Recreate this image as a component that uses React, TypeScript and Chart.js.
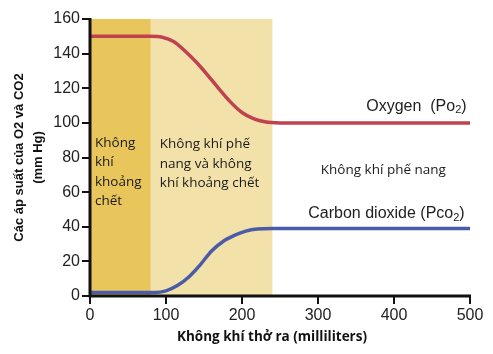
import React, { useEffect, useRef } from "react";
import { Chart, registerables } from "chart.js";

Chart.register(...registerables);

// Data
const oxygenX = [0, 80, 95, 110, 125, 140, 155, 170, 185, 200, 215, 230, 250, 500];
const oxygenY = [150, 150, 149.5, 147, 141.5, 135, 127.5, 119.5, 112, 106, 102.5, 100.6, 100, 100];
const co2X = [0, 85, 100, 115, 130, 145, 160, 175, 190, 205, 220, 240, 500];
const co2Y = [2, 2, 3, 6, 11, 18, 26, 31.5, 35, 37.5, 38.7, 39, 39];
const xTicks = [0, 100, 200, 300, 400, 500];
const yTicks = [0, 20, 40, 60, 80, 100, 120, 140, 160];
const deadSpace = [0, 80];
const mixedZone = [80, 240];

const oxygenLabel = "Oxygen  (Po";
const co2Label = "Carbon dioxide (Pco";
const deadLabel = ["Không", "khí", "khoảng", "chết"];
const mixedLabel = ["Không khí phế", "nang và không", "khí khoảng chết"];
const alveolarLabel = "Không khí phế nang";
const xTitle = "Không khí thở ra (milliliters)";
const yTitle = ["Các áp suất của O2 và CO2", "(mm Hg)"];

const FONT = "'Open Sans', 'Noto Sans', sans-serif";
const ARIAL = "'Liberation Sans', Arial, sans-serif";

const overlay = {
  id: "overlay",
  beforeDraw(chart: any) {
    const { ctx, chartArea, scales } = chart;
    const x = scales.x;
    ctx.save();
    ctx.fillStyle = "#E8C65C";
    ctx.fillRect(x.getPixelForValue(deadSpace[0]), chartArea.top, x.getPixelForValue(deadSpace[1]) - x.getPixelForValue(deadSpace[0]), chartArea.bottom - chartArea.top);
    ctx.fillStyle = "#F2E2AA";
    ctx.fillRect(x.getPixelForValue(mixedZone[0]), chartArea.top, x.getPixelForValue(mixedZone[1]) - x.getPixelForValue(mixedZone[0]), chartArea.bottom - chartArea.top);
    ctx.restore();
  },
  afterDatasetsDraw(chart: any) {
    const { ctx, chartArea, scales } = chart;
    const x = scales.x;
    const y = scales.y;
    ctx.save();
    ctx.fillStyle = "#1a1a1a";
    ctx.textBaseline = "middle";
    ctx.font = `13.5px ${FONT}`;
    ctx.textAlign = "left";
    const dx = x.getPixelForValue(deadSpace[0]) + 5;
    deadLabel.forEach((t, i) => ctx.fillText(t, dx, y.getPixelForValue(88.5) + i * 19.5));
    const mx = x.getPixelForValue(mixedZone[0]) + 9;
    mixedLabel.forEach((t, i) => ctx.fillText(t, mx, y.getPixelForValue(87.5) + i * 19.5));
    ctx.textAlign = "center";
    ctx.fillText(alveolarLabel, x.getPixelForValue(386), y.getPixelForValue(72.5));

    const drawSub = (label: string, rightX: number, cy: number) => {
      const main = `16px ${ARIAL}`;
      const sub = `11px ${ARIAL}`;
      ctx.textAlign = "left";
      ctx.font = main;
      const w1 = ctx.measureText(label).width;
      const w3 = ctx.measureText(")").width;
      ctx.font = sub;
      const w2 = ctx.measureText("2").width;
      const start = rightX - w1 - w2 - w3;
      ctx.font = main;
      ctx.fillText(label, start, cy);
      ctx.font = sub;
      ctx.fillText("2", start + w1, cy + 4);
      ctx.font = main;
      ctx.fillText(")", start + w1 + w2, cy);
    };
    ctx.fillStyle = "#222";
    drawSub(oxygenLabel, x.getPixelForValue(495.5), y.getPixelForValue(109.5));
    drawSub(co2Label, x.getPixelForValue(493), y.getPixelForValue(47.5));

    ctx.fillStyle = "#111";
    ctx.font = `bold 13.5px ${FONT}`;
    ctx.textAlign = "center";
    ctx.fillText(xTitle, 272, 337);
    const cy = (chartArea.top + chartArea.bottom) / 2;
    ctx.translate(19, cy);
    ctx.rotate(-Math.PI / 2);
    ctx.font = `bold 13px ${ARIAL}`;
    ctx.fillText(yTitle[0], 0, 0);
    ctx.fillText(yTitle[1], 0, 19);
    ctx.restore();
  },
  afterDraw(chart: any) {
    const { ctx, chartArea, scales } = chart;
    const x = scales.x;
    const y = scales.y;
    ctx.save();
    ctx.strokeStyle = "#111";
    ctx.lineCap = "butt";
    ctx.lineWidth = 2;
    ctx.beginPath();
    yTicks.forEach((v) => {
      const py = Math.round(y.getPixelForValue(v));
      ctx.moveTo(chartArea.left - 8, py);
      ctx.lineTo(chartArea.left, py);
    });
    xTicks.forEach((v) => {
      const px = Math.round(x.getPixelForValue(v));
      ctx.moveTo(px, chartArea.bottom);
      ctx.lineTo(px, chartArea.bottom + 8);
    });
    ctx.stroke();
    ctx.lineWidth = 3;
    ctx.beginPath();
    ctx.moveTo(chartArea.left, chartArea.top - 1);
    ctx.lineTo(chartArea.left, chartArea.bottom + 1.5);
    ctx.moveTo(chartArea.left - 1.5, chartArea.bottom);
    ctx.lineTo(chartArea.right + 1, chartArea.bottom);
    ctx.stroke();
    ctx.restore();
  },
};

export default function App() {
  const ref = useRef<HTMLCanvasElement>(null);
  useEffect(() => {
    if (!ref.current) return;
    const chart = new Chart(ref.current, {
      type: "line",
      data: {
        datasets: [
          {
            label: "Oxygen",
            data: oxygenX.map((v, i) => ({ x: v, y: oxygenY[i] })),
            borderColor: "#C0414F",
            borderWidth: 3.5,
            pointRadius: 0,
            cubicInterpolationMode: "monotone",
            clip: false,
          },
          {
            label: "CO2",
            data: co2X.map((v, i) => ({ x: v, y: co2Y[i] })),
            borderColor: "#4A5CA7",
            borderWidth: 3.5,
            pointRadius: 0,
            cubicInterpolationMode: "monotone",
            clip: false,
          },
        ],
      },
      options: {
        animation: false,
        responsive: false,
        layout: { padding: { top: 19, right: 23, left: 0, bottom: 0 } },
        plugins: { legend: { display: false }, tooltip: { enabled: false } },
        scales: {
          x: {
            type: "linear",
            min: 0,
            max: 500,
            afterFit: (s: any) => { s.height = 58; },
            afterBuildTicks: (s: any) => { s.ticks = xTicks.map((v) => ({ value: v })); },
            grid: { display: false, tickLength: 8 },
            border: { display: false },
            ticks: { color: "#222", font: { size: 16, family: ARIAL }, padding: 2, maxRotation: 0 },
          },
          y: {
            min: 0,
            max: 160,
            afterFit: (s: any) => { s.width = 90; },
            afterBuildTicks: (s: any) => { s.ticks = yTicks.map((v) => ({ value: v })); },
            grid: { display: false, tickLength: 8 },
            border: { display: false },
            ticks: { color: "#222", font: { size: 16, family: ARIAL }, padding: 2 },
          },
        },
      } as any,
      plugins: [overlay],
    });
    return () => chart.destroy();
  }, []);
  return (
    <div style={{ position: "absolute", left: 0, top: 0, width: 493, height: 354, background: "#fff" }}>
      <canvas ref={ref} width={493} height={354} style={{ width: 493, height: 354 }} />
    </div>
  );
}
